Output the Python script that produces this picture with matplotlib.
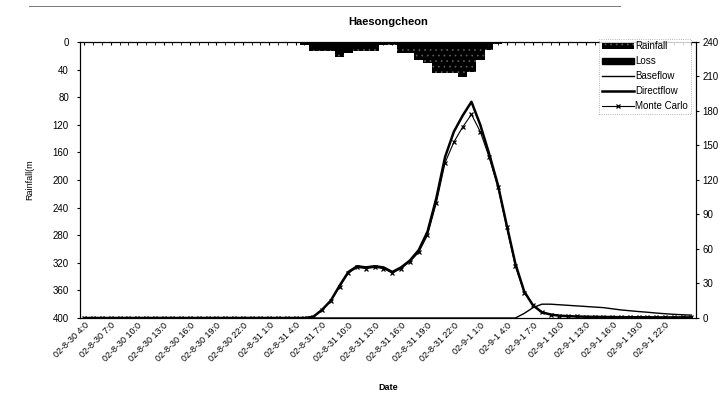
import numpy as np
import matplotlib
matplotlib.use('Agg')
import matplotlib.pyplot as plt
import matplotlib.patches as mpatches
from matplotlib.lines import Line2D
from matplotlib.transforms import ScaledTranslation

plt.rcParams['font.family'] = ['Liberation Sans', 'DejaVu Sans']
plt.rcParams['hatch.linewidth'] = 0.5

# ─── Data (hourly, 02-8-30 4:00 .. 02-9-2 1:00) ───────────────────────────────
days = ['30'] * 20 + ['31'] * 24 + ['1'] * 24 + ['2'] * 2
months = ['8'] * 44 + ['9'] * 26
hours = list(range(4, 24)) + list(range(24)) + list(range(24)) + [0, 1]
dates = [f'02-{m}-{d} {h}:0' for m, d, h in zip(months, days, hours)]

rainfall = [0] * 24 + [2, 4, 13, 13, 13, 22, 16, 13, 13, 13, 4, 4, 16, 16,
                       26, 30, 45, 45, 45, 51, 43, 26, 12, 3, 1] + [0] * 21
loss = [0] * 24 + [2, 4, 11, 11, 11, 18, 13, 10, 10, 10, 4, 3, 6, 6,
                   7, 7, 8, 8, 8, 8, 8, 6, 4, 2, 1] + [0] * 21

baseflow = [0] * 50 + [4, 9, 12, 12, 11.5, 11, 10.5, 10, 9.5, 9, 8, 7,
                       6.3, 5.6, 5, 4.3, 3.7, 3.2, 2.8, 2.5]
directflow = [0] * 26 + [1, 7, 15, 28, 40, 45, 44, 45, 44, 40, 44, 50,
                         59, 75, 104, 140, 162, 176, 188, 168, 143, 116,
                         81, 47, 23, 11, 5, 3, 2, 1.6, 1.3, 1.1, 1, 0.9,
                         0.8, 0.7, 0.7, 0.6, 0.6, 0.5, 0.5, 0.5, 0.5, 0.5]
monte_carlo = [0] * 26 + [1, 7, 15, 27, 39, 44, 43, 44, 43, 39, 43, 49,
                          57, 72, 100, 135, 153, 166, 177, 162, 140, 114,
                          79, 45, 22, 11, 5, 3, 2, 1.6, 1.3, 1.1, 1, 0.9,
                          0.8, 0.7, 0.7, 0.6, 0.6, 0.5, 0.5, 0.5, 0.5, 0.5]

x = np.arange(len(dates))

# ─── Figure ───────────────────────────────────────────────────────────────────
fig = plt.figure(figsize=(7.21, 3.96), dpi=100)
ax = fig.add_axes([0.111, 0.197, 0.854, 0.697])

# rainfall / loss hang from the top (inverted left axis)
ax.bar(x, rainfall, width=1.0, facecolor='black', edgecolor='#5e5e5e',
       linewidth=0, hatch='...', zorder=2)
ax.bar(x, loss, width=1.0, color='black', linewidth=0, zorder=3)
ax.set_ylim(400, 0)
ax.set_yticks(np.arange(0, 401, 40))
ax.set_xlim(-0.5, len(x) - 0.5)
ax.set_xticks(x[::3])
ax.set_xticklabels(dates[::3][:23] + [''] * (len(x[::3]) - 23),
                   rotation=45, ha='right', rotation_mode='anchor', fontsize=6.5)
shift = ScaledTranslation(-0.12, -0.02, fig.dpi_scale_trans)
for lbl in ax.get_xticklabels():
    lbl.set_transform(lbl.get_transform() + shift)
ax.set_xticks(x, minor=True)
ax.tick_params(axis='x', which='both', direction='in', length=2, pad=2,
               top=True, bottom=False)
ax.tick_params(axis='y', labelsize=7, length=2, pad=6)
ax.set_ylabel('Rainfall(m', fontsize=6.5, labelpad=13)
ax.set_xlabel('Date', fontsize=6.5, fontweight='bold', labelpad=14)
for s in ax.spines.values():
    s.set_linewidth(0.8)

# flows on the right axis
ax2 = ax.twinx()
ax2.plot(x, baseflow, color='black', lw=1.0, zorder=4)
ax2.plot(x, directflow, color='black', lw=1.8, zorder=5)
ax2.plot(x, monte_carlo, color='black', lw=0.8, marker='x', ms=3.5,
         mew=0.9, zorder=6)
ax2.set_ylim(0, 240)
ax2.set_yticks(np.arange(0, 241, 30))
ax2.tick_params(axis='y', labelsize=7, length=2, pad=3)

handles = [
    mpatches.Patch(facecolor='black', edgecolor='#5e5e5e', hatch='...', lw=0),
    mpatches.Patch(color='black'),
    Line2D([], [], color='black', lw=1.0),
    Line2D([], [], color='black', lw=1.8),
    Line2D([], [], color='black', lw=0.8, marker='x', ms=3.5, mew=0.9),
]
labels = ['Rainfall', 'Loss', 'Baseflow', 'Directflow', 'Monte Carlo']
leg = ax2.legend(handles, labels, loc='upper right',
                 bbox_to_anchor=(1.0, 1.03), fontsize=7, frameon=True,
                 fancybox=False, edgecolor='#888888', handlelength=3.3,
                 handletextpad=0.1, borderpad=0.3, labelspacing=0.5)
leg.get_frame().set_linewidth(0.6)
leg.get_frame().set_linestyle(':')

fig.text(0.538, 0.945, 'Haesongcheon', ha='center', va='center',
         fontsize=8, fontweight='bold')

# faint rule across the top of the sheet
fig.add_artist(Line2D([0.04, 0.86], [0.985, 0.985], color='#777777', lw=0.7,
                      transform=fig.transFigure))

fig.savefig('out.png', dpi=100)
